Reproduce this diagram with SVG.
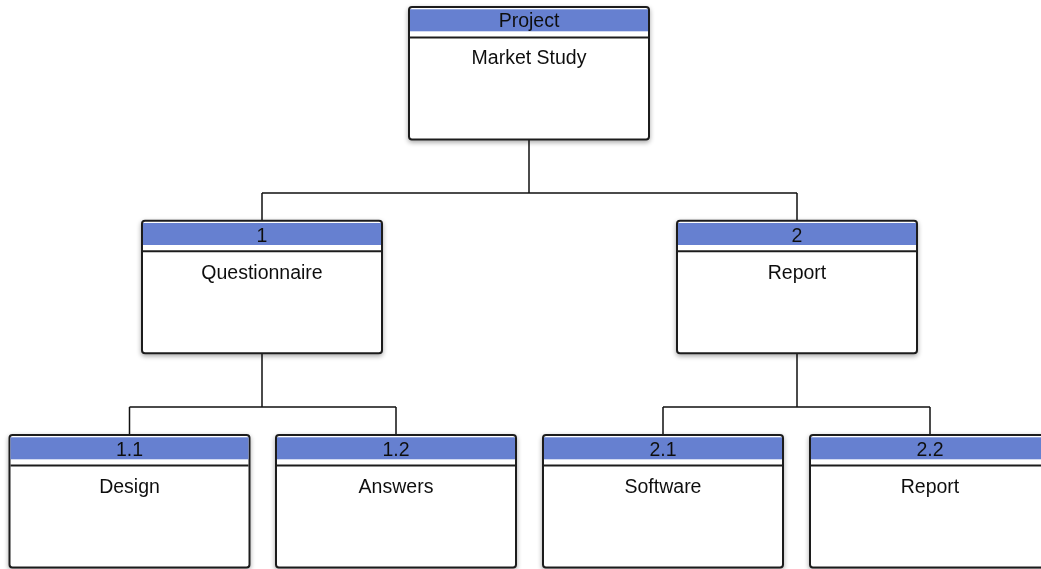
<svg xmlns="http://www.w3.org/2000/svg" width="1041" height="569" viewBox="0 0 1041 569">
<style>
.box{fill:#ffffff;stroke:#1e1e1e;stroke-width:2}
.hdr{fill:#6680d0;stroke:none}
.sep{stroke:#1e1e1e;stroke-width:2}
.conn{fill:none;stroke:#111;stroke-width:1.5}
text{font-family:"Liberation Sans",Arial,sans-serif;font-size:19.5px;fill:#111;text-anchor:middle}
</style>
<defs>
<filter id="sh" x="-10%" y="-10%" width="120%" height="130%">
<feGaussianBlur in="SourceAlpha" stdDeviation="2.5"/>
<feOffset dx="0" dy="2" result="b"/>
<feComponentTransfer><feFuncA type="linear" slope="0.35"/></feComponentTransfer>
<feMerge><feMergeNode/><feMergeNode in="SourceGraphic"/></feMerge>
</filter>
<g id="card">
<rect class="box" x="0" y="0" width="240" height="132.5" rx="3"/>
<rect class="hdr" x="1" y="2.3" width="238" height="22"/>
<line class="sep" x1="1" y1="30.5" x2="239" y2="30.5"/>
</g>
</defs>
<g id="connectors">
<path class="conn" d="M529,139.5 V193 M262,193 H797 M262,193 V220.7 M797,193 V220.7"/>
<path class="conn" d="M262,353 V407 M129.5,407 H396 M129.5,407 V435 M396,407 V435"/>
<path class="conn" d="M797,353 V407 M663,407 H930 M663,407 V435 M930,407 V435"/>
</g>
<g id="node-project" filter="url(#sh)">
<use href="#card" x="409" y="7"/>
<text x="529" y="26.5">Project</text>
<text x="529" y="64">Market Study</text>
</g>
<g id="node-1" filter="url(#sh)">
<use href="#card" x="142" y="220.7"/>
<text x="262" y="241.5">1</text>
<text x="262" y="279">Questionnaire</text>
</g>
<g id="node-2" filter="url(#sh)">
<use href="#card" x="677" y="220.7"/>
<text x="797" y="241.5">2</text>
<text x="797" y="279">Report</text>
</g>
<g id="node-1-1" filter="url(#sh)">
<use href="#card" x="9.5" y="435"/>
<text x="129.5" y="455.5">1.1</text>
<text x="129.5" y="493">Design</text>
</g>
<g id="node-1-2" filter="url(#sh)">
<use href="#card" x="276" y="435"/>
<text x="396" y="455.5">1.2</text>
<text x="396" y="493">Answers</text>
</g>
<g id="node-2-1" filter="url(#sh)">
<use href="#card" x="543" y="435"/>
<text x="663" y="455.5">2.1</text>
<text x="663" y="493">Software</text>
</g>
<g id="node-2-2" filter="url(#sh)">
<use href="#card" x="810" y="435"/>
<text x="930" y="455.5">2.2</text>
<text x="930" y="493">Report</text>
</g>
</svg>
